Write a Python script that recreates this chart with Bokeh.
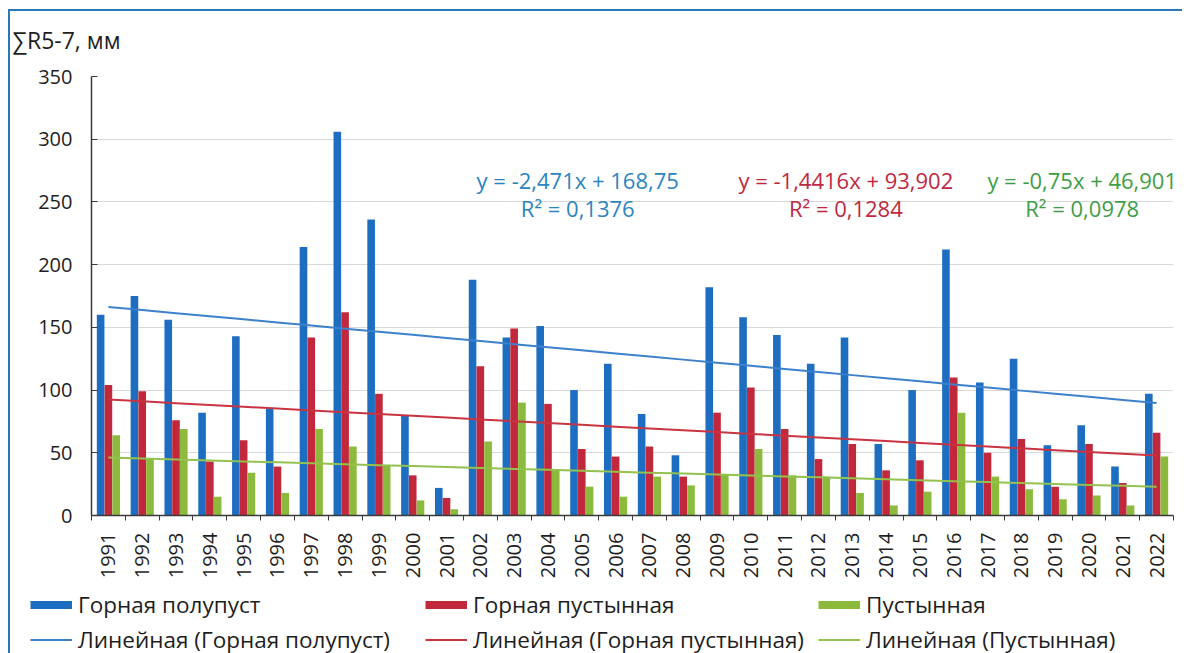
import numpy as np
from bokeh.plotting import figure
from bokeh.layouts import column
from bokeh.models import (FixedTicker, Legend, LegendItem, Label, Range1d)
from bokeh.embed import file_html
from bokeh.resources import INLINE

# ---------------- data ----------------
years = [str(y) for y in range(1991, 2023)]
gorn_polupust = [160, 175, 156, 82, 143, 85, 214, 306, 236, 80, 22, 188, 142, 151, 100, 121,
                 81, 48, 182, 158, 144, 121, 142, 57, 100, 212, 106, 125, 56, 72, 39, 97]
gorn_pustyn = [104, 99, 76, 43, 60, 39, 142, 162, 97, 32, 14, 119, 149, 89, 53, 47,
               55, 31, 82, 102, 69, 45, 57, 36, 44, 110, 50, 61, 23, 57, 26, 66]
pustyn = [64, 45, 69, 15, 34, 18, 69, 55, 40, 12, 5, 59, 90, 36, 23, 15,
          31, 24, 33, 53, 32, 31, 18, 8, 19, 82, 31, 21, 13, 16, 8, 47]
series_names = ["Горная полупуст", "Горная пустынная", "Пустынная"]
trend_slopes = [-2.471, -1.4416, -0.75]
trend_intercepts = [168.75, 93.902, 46.901]
trend_r2 = ["0,1376", "0,1284", "0,0978"]
trend_eq = ["y = -2,471x + 168,75", "y = -1,4416x + 93,902", "y = -0,75x + 46,901"]
y_ticks = [0, 50, 100, 150, 200, 250, 300, 350]
y_title = "∑R5-7, мм"

# ---------------- style ----------------
bar_colors = ["#1D6DC1", "#C1283B", "#8BBA3D"]
trend_colors = ["#3D80CC", "#C83441", "#93C24E"]
eq_colors = ["#2B85C0", "#C0283F", "#3E9E45"]
FONT = "Open Sans"
TXT = "#1e1e1e"
W = 1172
TH = 51

idx = np.arange(1, len(years) + 1)
series = [gorn_polupust, gorn_pustyn, pustyn]
trend_vals = [trend_slopes[k] * idx + trend_intercepts[k] for k in range(3)]

# ---------------- title strip ----------------
t = figure(width=W, height=TH, output_backend="svg", toolbar_location=None,
           x_range=Range1d(0, W), y_range=Range1d(0, TH),
           x_axis_location=None, y_axis_location=None,
           min_border=0, min_border_left=0, min_border_right=0, min_border_top=0,
           min_border_bottom=0, background_fill_color="white", border_fill_color="white")
t.frame_align = False
t.outline_line_color = None
t.grid.visible = False
t.add_layout(Label(x=2, y=23, text=y_title, text_font=FONT, text_font_size="23px",
                   text_color=TXT, text_align="left", text_baseline="middle"))

# ---------------- main chart ----------------
p = figure(width=W, height=575 - TH, output_backend="svg", toolbar_location=None,
           x_range=Range1d(0.5, len(years) + 0.5), y_range=Range1d(0, 350),
           min_border_left=81, min_border_right=9, min_border_top=14, min_border_bottom=71,
           background_fill_color="white", border_fill_color="white")
p.frame_align = False
p.outline_line_color = None
p.xgrid.grid_line_color = None
p.ygrid.grid_line_color = "#D9D9D9"
p.ygrid.grid_line_width = 1.2

offs = [-0.23, 0.0, 0.23]
bw = 0.225
for k in range(3):
    p.vbar(x=idx + offs[k], top=series[k], width=bw, bottom=0,
           fill_color=bar_colors[k], line_color=None)
for k in range(3):
    p.line(idx, trend_vals[k], line_color=trend_colors[k], line_width=2)

# axes
xa = p.xaxis[0]
xa.ticker = FixedTicker(ticks=list(idx), minor_ticks=list(np.arange(0.5, len(years) + 1, 1.0)))
xa.major_label_overrides = {int(i): y for i, y in zip(idx, years)}
xa.major_label_orientation = np.pi / 2
xa.major_tick_line_color = None
xa.major_tick_out = 0
xa.major_tick_in = 0
xa.minor_tick_line_color = "#3a3a3a"
xa.minor_tick_out = 5
xa.minor_tick_in = 0
xa.axis_line_color = "#3a3a3a"
xa.axis_line_width = 1.5
xa.major_label_standoff = 12
xa.major_label_text_font = FONT
xa.major_label_text_font_size = "20px"
xa.major_label_text_color = TXT

ya = p.yaxis[0]
ya.ticker = FixedTicker(ticks=y_ticks)
ya.major_tick_in = 6
ya.major_tick_out = 0
ya.major_tick_line_color = "#3a3a3a"
ya.minor_tick_line_color = None
ya.axis_line_color = "#3a3a3a"
ya.axis_line_width = 1.5
ya.major_label_standoff = 19
ya.major_label_text_font = FONT
ya.major_label_text_font_size = "20px"
ya.major_label_text_color = TXT

# regression equations
eq_x = [14.88, 22.81, 29.80]
for k in range(3):
    p.add_layout(Label(x=eq_x[k], y=267.7, text=trend_eq[k], text_font=FONT,
                       text_font_size="22px", text_color=eq_colors[k],
                       text_align="center", text_baseline="middle"))
    p.add_layout(Label(x=eq_x[k], y=245.3, text="R² = " + trend_r2[k], text_font=FONT,
                       text_font_size="22px", text_color=eq_colors[k],
                       text_align="center", text_baseline="middle"))

# ---------------- legend strip ----------------
q = figure(width=W, height=67, output_backend="svg", toolbar_location=None,
           x_range=Range1d(0.5, len(years) + 0.5), y_range=Range1d(-2, -1),
           x_axis_location=None, y_axis_location=None,
           min_border=0, min_border_left=0, min_border_right=0, min_border_top=0,
           min_border_bottom=0, background_fill_color="white", border_fill_color="white")
q.frame_align = False
q.outline_line_color = None
q.grid.visible = False

# proxies hold the real series (they fall outside this strip's range, so only the legend shows them)
leg_x = [20, 415, 808]
for k in range(3):
    bar_proxy = q.line(idx, series[k], line_color=bar_colors[k], line_width=8, line_cap="butt")
    line_proxy = q.line(idx, trend_vals[k], line_color=trend_colors[k], line_width=2)
    leg = Legend(items=[LegendItem(label=series_names[k], renderers=[bar_proxy]),
                        LegendItem(label="Линейная (" + series_names[k] + ")", renderers=[line_proxy])],
                 location=(leg_x[k], -1.5), orientation="vertical",
                 padding=0, margin=0, spacing=4, glyph_width=42, glyph_height=31,
                 label_height=31, label_standoff=6, border_line_color=None,
                 background_fill_alpha=0, label_text_font=FONT, label_text_font_size="22.5px",
                 label_text_color=TXT)
    q.add_layout(leg)

layout = column(t, p, q, spacing=0)
layout.styles = {"border-top": "2px solid #2A78B8", "border-left": "2px solid #2A78B8",
                 "margin-top": "9px", "margin-left": "8px", "margin-bottom": "-20px"}

open("out.html", "w").write(file_html(layout, INLINE))
